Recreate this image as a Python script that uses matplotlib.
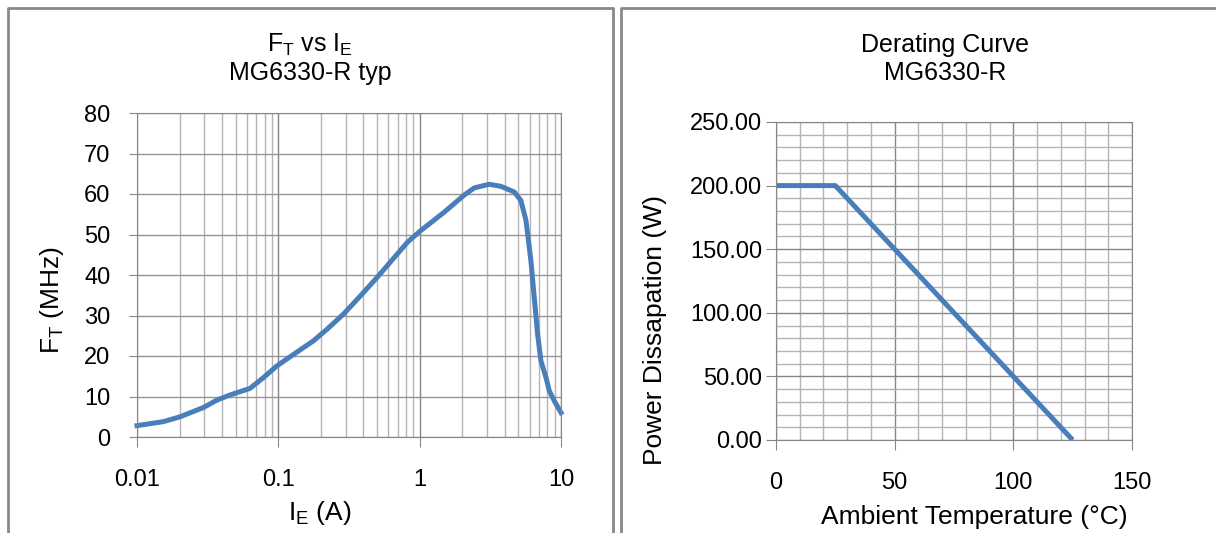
import matplotlib
matplotlib.use('Agg')
import matplotlib.pyplot as plt
from matplotlib.lines import Line2D
from matplotlib.ticker import LogLocator, MultipleLocator, FixedLocator, NullFormatter
import numpy as np

# F_T vs I_E data
ie_amps = [0.01, 0.0154, 0.0202, 0.0296, 0.0367, 0.0457, 0.063, 0.0787, 0.098, 0.178,
           0.221, 0.29, 0.382, 0.50, 0.695, 0.82, 1.02, 1.49, 2.06, 2.43, 3.1,
           3.75, 4.67, 5.2, 5.65, 6.12, 6.83, 7.21, 7.83, 8.26, 8.97, 10.0]
ft_mhz = [2.8, 3.8, 5.0, 7.3, 9.1, 10.4, 12.0, 14.7, 17.6, 23.8,
          26.6, 30.4, 34.9, 39.4, 45.2, 48.1, 51.0, 55.5, 59.7, 61.5, 62.4,
          61.9, 60.5, 58.4, 53.5, 43.6, 25.4, 18.8, 14.7, 11.4, 8.9, 6.0]

# derating curve
temp_c = [0, 25, 125]
power_w = [200, 200, 0]

ft_ticks = [0, 10, 20, 30, 40, 50, 60, 70, 80]
ie_ticks = [0.01, 0.1, 1, 10]
ie_ticklabels = ['0.01', '0.1', '1', '10']
pw_ticks = [0, 50, 100, 150, 200, 250]
t_ticks = [0, 50, 100, 150]

plt.rcParams['font.family'] = ['Liberation Sans', 'DejaVu Sans']
plt.rcParams['mathtext.fontset'] = 'custom'
plt.rcParams['mathtext.rm'] = 'Liberation Sans'

W, H = 1216, 533
fig = plt.figure(figsize=(W / 100, H / 100), dpi=100)

def px_axes(l, t, r, b):
    return fig.add_axes([l / W, 1 - b / H, (r - l) / W, (b - t) / H])

def fx(x):
    return x / W

def fy(y):
    return 1 - y / H

blue = '#4a7ebb'
dark = '#868686'
light = '#b4b4b4'
tick_fs = 17
title_fs = 18
label_fs = 19

# panel frames
for xs, ys in [([8, 8, 613, 613], [540, 8, 8, 540]), ([621, 621, 1220], [540, 8, 8])]:
    fig.add_artist(Line2D([fx(v) for v in xs], [fy(v) for v in ys],
                          color='#888888', lw=2.0, transform=fig.transFigure))

# ---- left chart
ax1 = px_axes(137, 113, 561, 437)
ax1.set_xscale('log')
ax1.set_xlim(0.01, 10)
ax1.set_ylim(0, 80)
ax1.plot(ie_amps, ft_mhz, color=blue, lw=3.6, solid_joinstyle='round', clip_on=False)
ax1.xaxis.set_major_locator(FixedLocator(ie_ticks))
ax1.set_xticklabels(ie_ticklabels)
ax1.xaxis.set_minor_locator(LogLocator(base=10, subs=np.arange(2, 10)))
ax1.xaxis.set_minor_formatter(NullFormatter())
ax1.set_yticks(ft_ticks)
ax1.grid(True, which='major', axis='x', color=dark, lw=1.0)
ax1.grid(True, which='minor', axis='x', color=light, lw=1.0)
ax1.grid(True, which='major', axis='y', color='#959595', lw=1.0)
ax1.tick_params(axis='x', which='major', direction='out', length=7, color=dark,
                labelsize=tick_fs, pad=16)
ax1.tick_params(axis='x', which='minor', length=0)
ax1.tick_params(axis='y', direction='out', length=6, color=dark, labelsize=tick_fs, pad=13)
for s in ax1.spines.values():
    s.set_color(dark)
ax1.set_axisbelow(True)
fig.text(fx(310), fy(45), r'F$_\mathregular{T}$ vs I$_\mathregular{E}$', ha='center', va='center', fontsize=title_fs)
fig.text(fx(310), fy(73), 'MG6330-R typ', ha='center', va='center', fontsize=title_fs)
fig.text(fx(320), fy(513), r'I$_\mathregular{E}$ (A)', ha='center', va='center', fontsize=label_fs)
fig.text(fx(52), fy(300), r'F$_\mathregular{T}$ (MHz)', ha='center', va='center',
         rotation=90, fontsize=label_fs)

# ---- right chart
ax2 = px_axes(776, 122, 1132, 440)
ax2.set_xlim(0, 150)
ax2.set_ylim(0, 250)
ax2.plot(temp_c, power_w, color=blue, lw=3.6, solid_capstyle='butt')
ax2.set_xticks(t_ticks)
ax2.set_yticks(pw_ticks)
ax2.set_yticklabels([f'{v:.2f}' for v in pw_ticks])
ax2.xaxis.set_minor_locator(MultipleLocator(10))
ax2.yaxis.set_minor_locator(MultipleLocator(10))
ax2.grid(True, which='major', color=dark, lw=1.0)
ax2.grid(True, which='minor', color=light, lw=1.0)
ax2.tick_params(which='major', direction='out', length=7, color=dark, labelsize=tick_fs)
ax2.tick_params(axis='x', which='major', pad=16)
ax2.tick_params(axis='y', which='major', pad=3)
ax2.tick_params(which='minor', length=0)
for s in ax2.spines.values():
    s.set_color(dark)
ax2.set_axisbelow(True)
fig.text(fx(945), fy(45), 'Derating Curve', ha='center', va='center', fontsize=title_fs)
fig.text(fx(945), fy(73), 'MG6330-R', ha='center', va='center', fontsize=title_fs)
fig.text(fx(974), fy(517), 'Ambient Temperature (°C)', ha='center', va='center', fontsize=label_fs)
fig.text(fx(655), fy(330), 'Power Dissapation (W)', ha='center', va='center',
         rotation=90, fontsize=label_fs)

fig.savefig('out.png', dpi=100)
